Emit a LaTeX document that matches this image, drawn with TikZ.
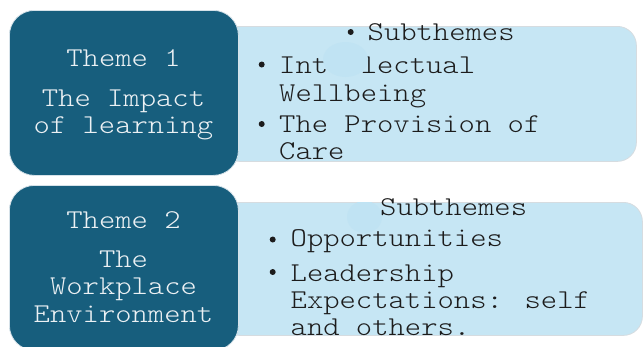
\documentclass[tikz,border=0pt]{standalone}
\usepackage{fontspec}
\usetikzlibrary{shapes.geometric}
% light typewriter face, widened to a 0.6em advance
\newfontfamily\typefont[FakeStretch=1.143]{lmmonolt10-regular.otf}

\definecolor{themeblue}{RGB}{23,94,125}
\definecolor{themeedge}{RGB}{214,226,233}
\definecolor{subfill}{RGB}{198,230,244}
\definecolor{subedge}{RGB}{214,220,224}
\definecolor{spotfill}{RGB}{192,227,243}
\definecolor{lighttext}{RGB}{236,241,244}
\definecolor{darktext}{RGB}{28,28,28}

\tikzset{
  themebox/.style={rectangle, rounded corners=25pt, fill=themeblue, draw=themeedge,
    line width=0.8pt, minimum width=229pt, minimum height=165pt, inner sep=0pt, anchor=north west},
  subbox/.style={rectangle, rounded corners=19pt, fill=subfill, draw=subedge,
    line width=0.8pt, inner sep=0pt, anchor=north west},
  spot/.style={ellipse, fill=spotfill, draw=none, inner sep=0pt},
  themetext/.style={inner sep=0pt, anchor=base, text=lighttext,
    font=\typefont\fontsize{27.2}{28}\selectfont},
  subtext/.style={inner sep=0pt, anchor=base west, text=darktext,
    font=\typefont\fontsize{27.2}{28}\selectfont},
  dot/.style={circle, fill=darktext, inner sep=0pt, minimum size=6pt},
}

\begin{document}
\begin{tikzpicture}[x=1pt,y=-1pt]
\useasboundingbox (0,0) rectangle (644,346);
\clip (0,0) rectangle (644,346);

% subtheme panels (left edges tucked under the theme boxes)
\node[subbox, minimum width=416pt, minimum height=135pt] (sub1) at (220,26) {};
\node[subbox, minimum width=422pt, minimum height=133pt] (sub2) at (220,202) {};

% theme boxes
\node[themebox] (theme1) at (9,10) {};
\node[themebox] (theme2) at (9,185) {};

% theme 1 text
\node[themetext] (t1a) at (123.5,66.7) {Theme 1};
\node[themetext] (t1b) at (123.5,106) {The Impact};
\node[themetext] (t1c) at (123.5,133.5) {of learning};

% theme 2 text
\node[themetext] (t2a) at (123.5,228) {Theme 2};
\node[themetext] (t2b) at (123.5,267) {The};
\node[themetext] (t2c) at (123.5,294.7) {Workplace};
\node[themetext] (t2d) at (123.5,322.3) {Environment};

% subthemes of theme 1
\node[dot] (b1a) at (350.7,32) {};
\node[subtext] (s1a) at (367.5,40.7) {Subthemes};
\node[dot] (b1b) at (261.7,64.5) {};
\node[subtext] (s1b) at (279,73.3) {Intellectual};
\node[subtext] (s1c) at (279,101) {Wellbeing};
\node[dot] (b1c) at (261.7,124) {};
\node[subtext] (s1d) at (279,132) {The Provision of};
\node[subtext] (s1e) at (279,159.7) {Care};
\node[spot, minimum width=45pt, minimum height=35pt] (spot1) at (345.5,59.5) {};

% subthemes of theme 2
\begin{scope}
  \clip (sub2.north west) rectangle (sub2.south east);
  \node[spot, minimum width=35pt, minimum height=32pt] (spot2) at (364.5,217) {};
\end{scope}
\node[subtext] (s2a) at (380,215.7) {Subthemes};
\node[dot] (b2a) at (272.7,239.5) {};
\node[subtext] (s2b) at (290.5,246.7) {Opportunities};
\node[dot] (b2b) at (272.7,272) {};
\node[subtext] (s2c) at (290.5,281.7) {Leadership};
\node[subtext] (s2d) at (290.5,308.3) {Expectations: self};
\node[subtext] (s2e) at (290.5,335) {and others.};
\end{tikzpicture}
\end{document}
